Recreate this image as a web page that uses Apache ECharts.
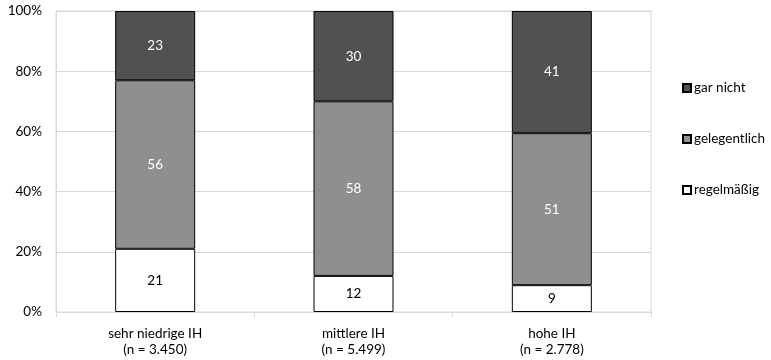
<!DOCTYPE html>
<html>
<head>
<meta charset="utf-8">
<script src="https://cdn.jsdelivr.net/npm/echarts@6/dist/echarts.min.js"></script>
<style>html,body{margin:0;padding:0;background:#fff}#c{width:771px;height:360px}</style>
</head>
<body>
<div id="c"></div>
<script>
const categories = ['sehr niedrige IH\n(n = 3.450)', 'mittlere IH\n(n = 5.499)', 'hohe IH\n(n = 2.778)'];
const regelmaessig = [21, 12, 9];
const gelegentlich = [56, 58, 51];
const garNicht = [23, 30, 41];
const yTicks = [0, 20, 40, 60, 80, 100];

const font = 'Lato, "Open Sans", sans-serif';
const fs = 13.5;
const chart = echarts.init(document.getElementById('c'));

// normalise to 100%
const totals = categories.map((_, i) => regelmaessig[i] + gelegentlich[i] + garNicht[i]);
const pct = arr => arr.map((v, i) => ({ value: v / totals[i] * 100, raw: v }));

function mk(name, data, color, labelColor) {
  return {
    name, type: 'bar', stack: 's', barWidth: 80,
    data: pct(data),
    itemStyle: { color, borderColor: '#000', borderWidth: 1 },
    label: { show: true, position: 'inside', color: labelColor, fontFamily: font, fontSize: fs,
      formatter: p => p.data.raw },
    emphasis: { disabled: true }
  };
}

chart.setOption({
  animation: false,
  grid: { left: 56, right: 120, top: 11, bottom: 48, show: true, borderColor: '#d9d9d9', borderWidth: 1 },
  legend: {
    orient: 'vertical', left: 677, top: 76, itemWidth: 8, itemHeight: 8, itemGap: 37,
    data: ['gar nicht', 'gelegentlich', 'regelmäßig'],
    textStyle: { fontFamily: font, fontSize: fs, color: '#000', padding: [0, 0, 0, -2] },
    icon: 'rect'
  },
  xAxis: {
    type: 'category', data: categories,
    axisLine: { lineStyle: { color: '#d9d9d9' } },
    axisTick: { show: true, length: 5, lineStyle: { color: '#d9d9d9' } },
    axisLabel: { color: '#000', fontFamily: font, fontSize: fs, lineHeight: 16, margin: 14 }
  },
  yAxis: {
    type: 'value', min: 0, max: 100, interval: 20,
    axisLine: { show: true, lineStyle: { color: '#d9d9d9' } },
    axisTick: { show: false },
    splitLine: { lineStyle: { color: '#d9d9d9' } },
    axisLabel: { color: '#000', fontFamily: font, fontSize: fs, margin: 14,
      formatter: v => yTicks.includes(v) ? v + '%' : '' }
  },
  series: [
    mk('regelmäßig', regelmaessig, '#ffffff', '#000'),
    mk('gelegentlich', gelegentlich, '#8f8f8f', '#fff'),
    mk('gar nicht', garNicht, '#515151', '#fff')
  ]
});
</script>
</body>
</html>
